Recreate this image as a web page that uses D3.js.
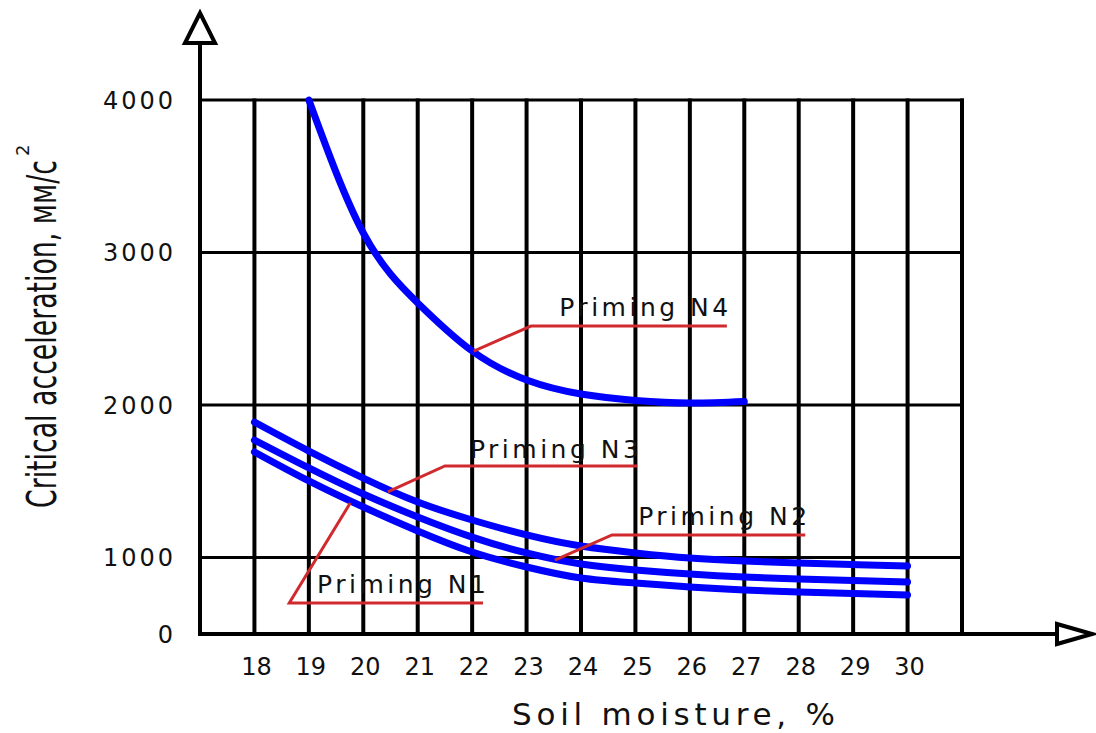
<!DOCTYPE html>
<html>
<head>
<meta charset="utf-8">
<script src="https://cdn.jsdelivr.net/npm/d3@7"></script>
<style>
  body { margin: 0; background: #fff; }
  text { font-family: "DejaVu Sans", sans-serif; fill: #111; }
</style>
</head>
<body>
<svg></svg>
<script>
//chart size
var svgWidth = 1096;
var svgHeight = 733;

//data
var moisture = [18, 19, 20, 21, 22, 23, 24, 25, 26, 27, 28, 29, 30];
var gridMoisture = [18, 19, 20, 21, 22, 23, 24, 25, 26, 27, 28, 29, 30, 31];
var accelTicks = [0, 1000, 2000, 3000, 4000];
var gridAccel = [1000, 2000, 3000, 4000];

var n4Moisture = [19, 20, 21, 22, 23, 24, 25, 26, 27];
var n4Accel = [4000, 3128, 2669, 2354, 2164, 2072, 2030, 2013, 2023];
var n3Accel = [1888, 1698, 1521, 1364, 1246, 1148, 1075, 1030, 993, 954, 928, 908, 889];
var n2Accel = [1770, 1587, 1416, 1266, 1134, 1030, 915, 837, 784, 745, 719, 699, 680];
var n1Accel = [1692, 1502, 1331, 1174, 1036, 876, 732, 667, 614, 575, 549, 529, 510];

//leader lines for the labels, in moisture / acceleration units
var labelNames = ["Priming N4", "Priming N3", "Priming N2", "Priming N1"];
var labelAt = [[23.6, 2584], [21.96, 1652], [25.05, 1213], [19.15, 536]];
var leaders = [
  [[22.03, 2354], [23.08, 2518], [26.68, 2518]],
  [[20.45, 1430], [21.50, 1600], [25.03, 1600]],
  [[23.52, 967], [24.57, 1148], [28.12, 1148]],
  [[19.76, 1357], [18.64, 405], [22.2, 405]]
];

var svg = d3.select("svg")
            .attr("width", svgWidth)
            .attr("height", svgHeight);

//scales (the 0..1000 band is squeezed like in the drawing)
var x = d3.scaleLinear().domain([17, 31]).range([200, 962]);
var y = d3.scaleLinear().domain([0, 1000, 4000]).range([634, 557.5, 100]);

//grid
svg.selectAll("line.vgrid")
   .data(gridMoisture)
   .enter()
   .append("line")
   .attr("class", "vgrid")
   .attr("x1", function(d){ return x(d); })
   .attr("x2", function(d){ return x(d); })
   .attr("y1", y(4000) - 1.5)
   .attr("y2", y(0))
   .attr("stroke", "#000")
   .attr("stroke-width", 4);

svg.selectAll("line.hgrid")
   .data(gridAccel)
   .enter()
   .append("line")
   .attr("class", "hgrid")
   .attr("x1", x(17))
   .attr("x2", x(31) + 2)
   .attr("y1", function(d){ return y(d); })
   .attr("y2", function(d){ return y(d); })
   .attr("stroke", "#000")
   .attr("stroke-width", 3);

//axes with open arrow heads
svg.append("line")
   .attr("x1", x(17)).attr("x2", x(17))
   .attr("y1", y(0) + 2).attr("y2", 43)
   .attr("stroke", "#000").attr("stroke-width", 4);
svg.append("path")
   .attr("d", "M" + (x(17) - 15) + ",43 L" + (x(17) + 15) + ",43 L" + x(17) + ",13 Z")
   .attr("fill", "#fff").attr("stroke", "#000").attr("stroke-width", 4);

svg.append("line")
   .attr("x1", x(17) - 2).attr("x2", 1057)
   .attr("y1", y(0)).attr("y2", y(0))
   .attr("stroke", "#000").attr("stroke-width", 4);
svg.append("path")
   .attr("d", "M1057," + (y(0) - 10) + " L1057," + (y(0) + 10) + " L1092," + y(0) + " Z")
   .attr("fill", "#fff").attr("stroke", "#000").attr("stroke-width", 4);

//tick labels
svg.selectAll("text.xtick")
   .data(moisture)
   .enter()
   .append("text")
   .attr("class", "xtick")
   .attr("x", function(d){ return x(d) + 2; })
   .attr("y", 675)
   .attr("text-anchor", "middle")
   .attr("font-size", 24)
   .text(function(d){ return d; });

svg.selectAll("text.ytick")
   .data(accelTicks)
   .enter()
   .append("text")
   .attr("class", "ytick")
   .attr("x", 176)
   .attr("y", function(d){ return y(d) + 8.5; })
   .attr("text-anchor", "end")
   .attr("font-size", 24)
   .attr("letter-spacing", "3px")
   .text(function(d){ return d; });

//axis titles
svg.append("text")
   .attr("x", 512)
   .attr("y", 725)
   .attr("font-size", 31)
   .attr("textLength", 323)
   .attr("lengthAdjust", "spacing")
   .text("Soil moisture, %");

//the y title is drawn narrow, so squeeze it with a scale
var yTitle = svg.append("g").attr("transform", "translate(56,508) rotate(-90)");
var yTitleText = yTitle.append("text")
      .attr("x", 0).attr("y", 0)
      .attr("font-size", 40)
      .text("Critical acceleration, мм/с");
var squeeze = 348 / yTitleText.node().getComputedTextLength();
yTitleText.attr("transform", "scale(" + squeeze + ",1)");
yTitle.append("text")
      .attr("x", 352).attr("y", -27)
      .attr("font-size", 18)
      .text("2");

//curves
var line = d3.line()
             .x(function(d){ return x(d[0]); })
             .y(function(d){ return y(d[1]); })
             .curve(d3.curveNatural);

var curves = [
  d3.zip(n4Moisture, n4Accel),
  d3.zip(moisture, n3Accel),
  d3.zip(moisture, n2Accel),
  d3.zip(moisture, n1Accel)
];

svg.selectAll("path.curve")
   .data(curves)
   .enter()
   .append("path")
   .attr("class", "curve")
   .attr("d", line)
   .attr("fill", "none")
   .attr("stroke", "#0000ff")
   .attr("stroke-width", 7)
   .attr("stroke-linecap", "round");

//leaders and labels
var leaderLine = d3.line()
                   .x(function(d){ return x(d[0]); })
                   .y(function(d){ return y(d[1]); });

svg.selectAll("path.leader")
   .data(leaders)
   .enter()
   .append("path")
   .attr("class", "leader")
   .attr("d", leaderLine)
   .attr("fill", "none")
   .attr("stroke", "#d12a2e")
   .attr("stroke-width", 3);

svg.selectAll("text.label")
   .data(labelNames)
   .enter()
   .append("text")
   .attr("class", "label")
   .attr("x", function(d, i){ return x(labelAt[i][0]); })
   .attr("y", function(d, i){ return y(labelAt[i][1]); })
   .attr("font-size", 25)
   .attr("letter-spacing", "3.5px")
   .text(function(d){ return d; });
</script>
</body>
</html>
